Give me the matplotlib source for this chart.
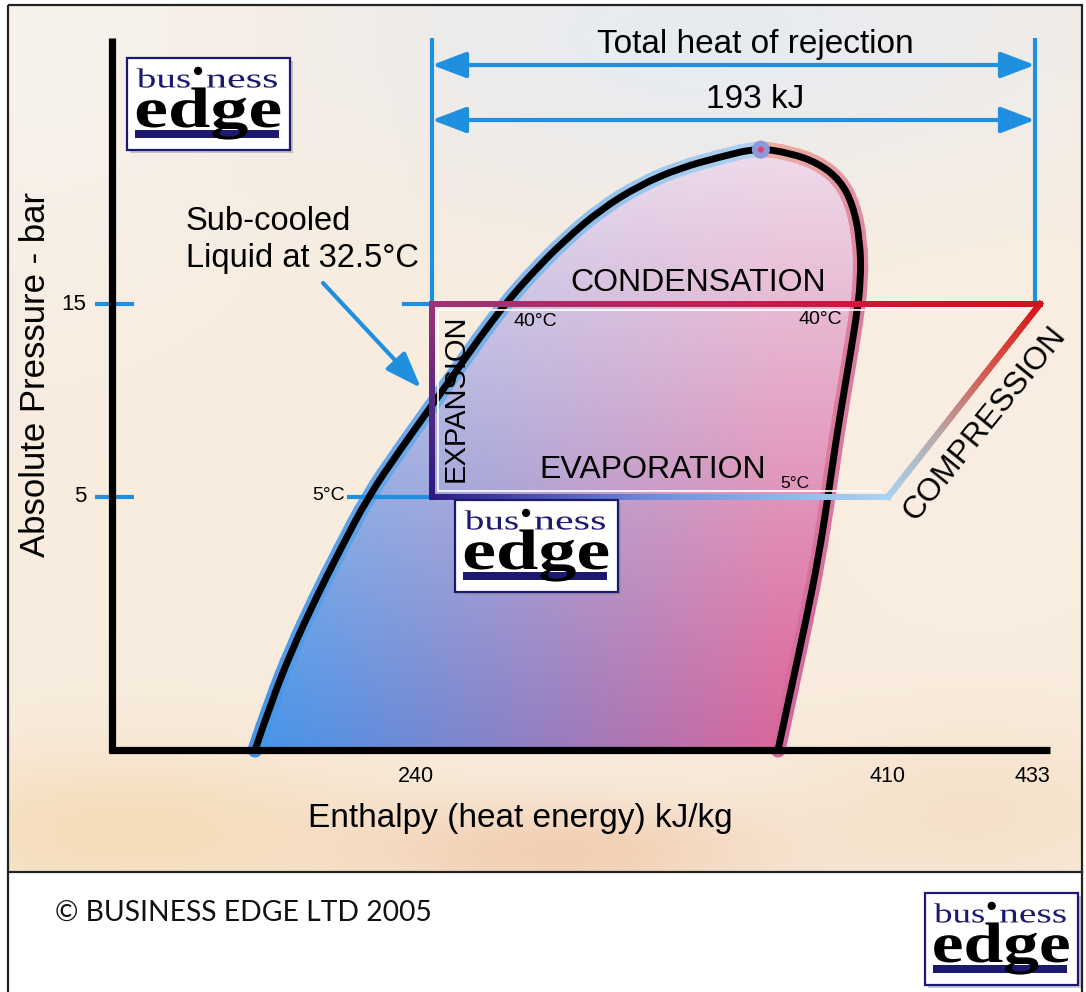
import numpy as np
import matplotlib
matplotlib.use('Agg')
import matplotlib.pyplot as plt
from matplotlib.collections import LineCollection
from matplotlib.patches import Polygon, Rectangle, Circle, PathPatch, FancyArrowPatch
from matplotlib.path import Path
from matplotlib.textpath import TextPath
from matplotlib.font_manager import FontProperties
from matplotlib.transforms import Affine2D

W, H = 1086, 992          # canvas in pixels, y grows downwards
PANEL_BOTTOM = 872

# axis ticks (schematic diagram, positions)
h_labels = ['240', '410', '433']
h_label_x = [416, 887, 1032]
p_labels = ['15', '5']
p_level_y = [304, 497]

# saturation dome
dome_left_x = [255, 272, 292, 315, 340, 368, 400, 425, 450, 478, 505, 535, 565, 600, 640, 680, 720, 757]
dome_left_y = [750, 700, 650, 600, 550, 497, 450, 415, 380, 340, 304, 270, 240, 210, 185, 168, 157, 148]
dome_right_x = [757, 790, 818, 840, 853, 860, 861, 856, 846, 836, 828, 818, 806, 793, 778]
dome_right_y = [148, 153, 163, 180, 205, 240, 280, 320, 380, 440, 497, 560, 620, 680, 750]

# refrigeration cycle: expansion, evaporation, compression, condensation
h_cond_x = [432, 1040]     # 240 -> 433 kJ/kg at 15 bar
h_evap_x = [432, 888]      # 240 -> 410 kJ/kg at 5 bar
heat_rejection_x = [432, 1035]

BLUE = '#1f8fe0'
NAVY = '#1c1a70'
SANS = 'Liberation Sans'

fig = plt.figure(figsize=(W / 100, H / 100), dpi=100)
ax = fig.add_axes([0, 0, 1, 1])
ax.set_xlim(0, W)
ax.set_ylim(H, 0)
ax.axis('off')
fig.patch.set_facecolor('white')

# ---- background of the panel
yy, xx = np.mgrid[0:PANEL_BOTTOM:4, 0:W:4].astype(float)
bg = np.ones(xx.shape + (3,)) * np.array([248, 236, 222]) / 255


def blob(cx, cy, sx, sy):
    return np.exp(-(((xx - cx) / sx) ** 2 + ((yy - cy) / sy) ** 2))


def mix(col, wgt):
    global bg
    bg = bg * (1 - wgt[..., None]) + np.array(col) / 255 * wgt[..., None]


mix((230, 235, 242), blob(720, 30, 420, 170) * 0.95)
mix((246, 243, 238), blob(40, 40, 220, 260) * 0.8)
mix((250, 240, 228), blob(980, 420, 200, 300) * 0.5)
mix((245, 218, 180), blob(120, 830, 260, 80) * 0.85)
mix((240, 198, 165), blob(560, 850, 220, 50) * 0.75)
mix((244, 220, 192), blob(980, 810, 200, 90) * 0.65)
ax.imshow(bg, extent=(8, W - 4, PANEL_BOTTOM, 5), interpolation='bilinear', zorder=0, aspect='auto')

# ---- smooth dome outline (quadratic bezier through the read points)
pts = np.array(list(zip(dome_left_x, dome_left_y)) + list(zip(dome_right_x[1:], dome_right_y[1:])), float)
verts = [pts[0]]
codes = [Path.MOVETO]
for i in range(1, len(pts) - 1):
    end = pts[i + 1] if i == len(pts) - 2 else (pts[i] + pts[i + 1]) / 2
    verts += [pts[i], end]
    codes += [Path.CURVE3, Path.CURVE3]
outline = Path(verts, codes).to_polygons(closed_only=False)[0]
ox, oy = outline[:, 0], outline[:, 1]
peak = int(np.argmin(oy))

# ---- dome fill with colour gradient
fy, fx = np.mgrid[140:752:2, 230:880:2].astype(float)
t = np.clip((fx - 262) / 516, 0, 1)[..., None]
blue = np.array([70, 150, 234]) / 255
purple = np.array([142, 128, 196]) / 255
pink = np.array([218, 102, 154]) / 255
base = np.where(t < 0.5, blue + (purple - blue) * (t / 0.5), purple + (pink - purple) * ((t - 0.5) / 0.5))
wh = (0.9 * np.clip((750 - fy) / 600, 0, 1) ** 1.1)[..., None]
fill = base * (1 - wh) + np.array([240, 232, 244]) / 255 * wh
im = ax.imshow(fill, extent=(230, 880, 752, 140), interpolation='bilinear', zorder=1, aspect='auto')
clip = Polygon(outline, closed=True, fc='none', ec='none')
ax.add_patch(clip)
im.set_clip_path(clip)

# ---- halo around the dome outline
segs = np.stack([outline[:-1], outline[1:]], axis=1)
cols = []
for i in range(len(segs)):
    if i < peak:
        f = i / max(peak - 1, 1)
        c = np.array([70, 148, 230]) * (1 - f) + np.array([178, 210, 240]) * f
    else:
        f = (i - peak) / max(len(segs) - peak - 1, 1)
        c = np.array([238, 176, 166]) * (1 - f) + np.array([212, 104, 156]) * f
    cols.append(c / 255)
ax.add_collection(LineCollection(segs, colors=cols, linewidths=11, capstyle='round', zorder=2))

# ---- blue guide lines
for y in p_level_y:
    ax.plot([95, 134], [y, y], color=BLUE, lw=3, solid_capstyle='butt', zorder=3)
ax.plot([347, h_evap_x[0]], [p_level_y[1]] * 2, color=BLUE, lw=3, solid_capstyle='butt', zorder=3)
ax.plot([402, h_cond_x[0]], [p_level_y[0]] * 2, color=BLUE, lw=3, solid_capstyle='butt', zorder=3)
for x in heat_rejection_x:
    ax.plot([x, x], [38, p_level_y[0]], color=BLUE, lw=3, solid_capstyle='butt', zorder=3)
for y in [65, 120]:
    ax.add_patch(FancyArrowPatch((heat_rejection_x[0], y), (heat_rejection_x[1], y),
                                 arrowstyle='<|-|>,head_length=21,head_width=8', mutation_scale=1,
                                 color=BLUE, lw=3, shrinkA=0, shrinkB=0, zorder=3))
ax.add_patch(FancyArrowPatch((323, 283), (421, 388), arrowstyle='-|>,head_length=22,head_width=8',
                             mutation_scale=1, color=BLUE, lw=3, shrinkA=0, shrinkB=0, zorder=3))

# ---- dome outline
ax.plot(ox, oy, color='black', lw=5, solid_capstyle='butt', solid_joinstyle='round', zorder=4)
crit_x, crit_y = ox[peak], oy[peak]
ax.add_patch(Circle((crit_x, crit_y), 9, fc='#8c9ad8', ec='none', zorder=5))
ax.add_patch(Circle((crit_x, crit_y), 3, fc='#e0407a', ec='none', zorder=5))

# ---- axes
ax.plot([112, 112], [38, 753], color='black', lw=5.2, solid_capstyle='butt', zorder=4)
ax.plot([109, 1050], [750, 750], color='black', lw=5.2, solid_capstyle='butt', zorder=4)


# ---- cycle lines with gradients
def grad_line(p0, p1, stops, lw=4.3, n=120):
    xs = np.linspace(p0[0], p1[0], n + 1)
    ys = np.linspace(p0[1], p1[1], n + 1)
    sg = np.stack([np.column_stack([xs[:-1], ys[:-1]]), np.column_stack([xs[1:], ys[1:]])], axis=1)
    pos = np.linspace(0, 1, n)
    sp = np.linspace(0, 1, len(stops))
    rgb = np.array([matplotlib.colors.to_rgb(c) for c in stops])
    cc = np.column_stack([np.interp(pos, sp, rgb[:, k]) for k in range(3)])
    ax.add_collection(LineCollection(sg, colors=cc, linewidths=lw, capstyle='projecting', zorder=5))


yc, ye = p_level_y
grad_line((h_cond_x[0], yc), (h_cond_x[0], ye), ['#9c3478', '#5a2880', '#2c1a84'])
grad_line((h_evap_x[0], ye), (h_evap_x[1], ye), ['#2c1a84', '#6f8ee0', '#a8d4f4'])
grad_line((h_evap_x[1], ye), (h_cond_x[1], yc), ['#a8d4f4', '#b8a8a8', '#d8584c', '#d41818'])
grad_line((h_cond_x[0], yc), (h_cond_x[1], yc), ['#9c3478', '#c02050', '#d4101a'])
# inner white highlight
ax.plot([438, 438, 880], [310, 491, 491], color='white', lw=1.2, zorder=5)
ax.plot([438, 1025], [310, 310], color='white', lw=1.2, zorder=5)

# ---- texts
tk = dict(family=SANS, color='black', zorder=6)
ax.text(755, 45, 'Total heat of rejection', fontsize=24, ha='center', va='center', **tk)
ax.text(755, 100, '193 kJ', fontsize=24, ha='center', va='center', **tk)
ax.text(186, 240, 'Sub-cooled\nLiquid at 32.5°C', fontsize=23.5, ha='left', va='center',
        linespacing=1.22, **tk)
ax.text(698, 283, 'CONDENSATION', fontsize=23, ha='center', va='center', **tk)
ax.text(653, 470, 'EVAPORATION', fontsize=23, ha='center', va='center', **tk)
ax.text(780, 483, '5°C', fontsize=12.5, ha='left', va='center', **tk)
ax.text(456, 398, 'EXPANSION', fontsize=21, ha='center', va='center', rotation=90, **tk)
ax.text(985, 424, 'COMPRESSION', fontsize=23, ha='center', va='center', rotation=51, **tk)
ax.text(535, 322, '40°C', fontsize=14, ha='center', va='center', **tk)
ax.text(820, 320, '40°C', fontsize=14, ha='center', va='center', **tk)
ax.text(345, 496, '5°C', fontsize=14, ha='right', va='center', **tk)
for lab, y in zip(p_labels, p_level_y):
    ax.text(86, y, lab, fontsize=16, ha='right', va='center', **tk)
for lab, x in zip(h_labels, h_label_x):
    ax.text(x, 776, lab, fontsize=15.5, ha='center', va='center', **tk)
ax.text(36, 374, 'Absolute Pressure - bar', fontsize=25, ha='center', va='center', rotation=90, **tk)
ax.text(520, 818, 'Enthalpy (heat energy) kJ/kg', fontsize=24, ha='center', va='center', **tk)

# ---- frame and footer
ax.add_patch(Rectangle((8, 5), W - 12, H, fc='none', ec='#222222', lw=1.6, zorder=8))
ax.plot([8, W - 4], [PANEL_BOTTOM, PANEL_BOTTOM], color='#222222', lw=1.6, zorder=8)
ax.text(55, 913, '© BUSINESS EDGE LTD 2005', fontsize=20.3, family='Lato', ha='left', va='center',
        color='#111111', zorder=6)

# ---- logos
serif = FontProperties(family='Liberation Serif')
serif_b = FontProperties(family='Liberation Serif', weight='bold')


def fit_text(s, xa, xb, base, size, prop, color, z):
    tp = TextPath((0, 0), s, size=1, prop=prop)
    ext = tp.get_extents()
    sx = (xb - xa) / ext.width
    tr = Affine2D().translate(-ext.x0, 0).scale(sx, -size).translate(xa, base)
    ax.add_patch(PathPatch(tr.transform_path(tp), fc=color, ec='none', zorder=z))


def logo(x0, y0, w, h, z=7):
    ax.add_patch(Rectangle((x0 + 3, y0 + 3), w, h, fc='#8a8a99', ec='none', alpha=0.45, zorder=z))
    ax.add_patch(Rectangle((x0, y0), w, h, fc='white', ec=NAVY, lw=1.6, zorder=z))
    ax.add_patch(Rectangle((x0 + 0.05 * w, y0 + 0.78 * h), 0.88 * w, 0.09 * h, fc=NAVY, ec='none', zorder=z))
    fit_text('bus', x0 + 0.06 * w, x0 + 0.385 * w, y0 + 0.32 * h, 0.30 * h, serif, NAVY, z)
    fit_text('ness', x0 + 0.49 * w, x0 + 0.92 * w, y0 + 0.32 * h, 0.30 * h, serif, NAVY, z)
    fit_text('edge', x0 + 0.06 * w, x0 + 0.94 * w, y0 + 0.75 * h, 0.62 * h, serif_b, 'black', z)
    ax.add_patch(Circle((x0 + 0.436 * w, y0 + 0.14 * h), 0.045 * h, fc='black', ec='none', zorder=z))


logo(127, 58, 163, 92)
logo(455, 500, 163, 92)
logo(925, 893, 153, 92)

fig.savefig('out.png', dpi=100, facecolor='white')
